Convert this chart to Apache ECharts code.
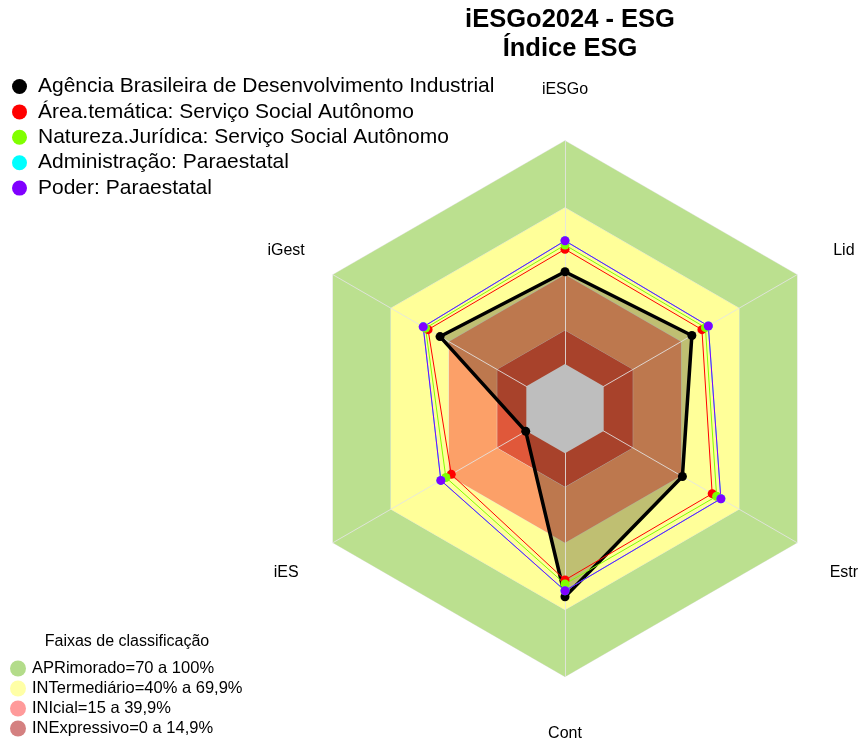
<!DOCTYPE html>
<html>
<head>
<meta charset="utf-8">
<script src="https://cdn.jsdelivr.net/npm/echarts@6/dist/echarts.min.js"></script>
<style>
html,body{margin:0;padding:0;background:#fff;}
#chart{width:862px;height:742px;}
</style>
</head>
<body>
<div id="chart"></div>
<script>
// Axes in ECharts order (counter-clockwise from top)
const categories = ['iESGo', 'iGest', 'iES', 'Cont', 'Estr', 'Lid'];
const axisMin = -20;
const axisMax = 100;

const seriesNames = [
  'Agência Brasileira de Desenvolvimento Industrial',
  'Área.temática: Serviço Social Autônomo',
  'Natureza.Jurídica: Serviço Social Autônomo',
  'Administração: Paraestatal',
  'Poder: Paraestatal'
];
const seriesColors = ['#000000', '#ff0000', '#80ff00', '#00ffff', '#8000ff'];

const valuesAgencia = [41.3, 44.6, 0.3, 64.2, 40.7, 45.6];
const valuesArea = [51.4, 50.8, 38.8, 56.7, 56.1, 50.8];
const valuesNatureza = [53.3, 52.1, 41.6, 58.5, 58.4, 52.6];
const valuesAdministracao = [55.2, 53.3, 44.2, 61.5, 60.6, 54.1];
const valuesPoder = [55.2, 53.3, 44.2, 61.5, 60.6, 54.1];
const allValues = [valuesAgencia, valuesArea, valuesNatureza, valuesAdministracao, valuesPoder];

// Classification bands (upper limit of each band)
const bandNames = ['APRimorado=70 a 100%', 'INTermediário=40% a 69,9%', 'INIcial=15 a 39,9%', 'INExpressivo=0 a 14,9%'];
const bandLimits = [100, 70, 40, 15];
const bandFill = ['#bbe08f', '#ffff99', '#fca068', '#e0583a'];
const bandLegendColors = ['#b3dc8a', '#ffffa6', '#ff9a9a', '#d48080'];
const zeroLimit = 0;
const zeroFill = '#bebebe';

const chart = echarts.init(document.getElementById('chart'));
const font = 'Liberation Sans, Arial, sans-serif';
const gridLine = 'rgba(228,228,228,0.85)';

const series = [];
bandLimits.forEach(function (lim, i) {
  series.push({
    type: 'radar', name: bandNames[i], z: 1, silent: true,
    symbol: 'none',
    itemStyle: { color: bandLegendColors[i] },
    lineStyle: { color: gridLine, width: 1 },
    areaStyle: { color: bandFill[i], opacity: 1 },
    data: [{ value: categories.map(function () { return lim; }) }]
  });
});
// fill of the main entity
series.push({
  type: 'radar', name: 'fill', z: 1, silent: true, symbol: 'none',
  lineStyle: { width: 0, opacity: 0 },
  areaStyle: { color: 'rgba(0,0,0,0.25)', opacity: 1 },
  data: [{ value: valuesAgencia }]
});
// zero disk on top of fill
series.push({
  type: 'radar', name: 'zero', z: 3, silent: true, symbol: 'none',
  lineStyle: { width: 0, opacity: 0 },
  areaStyle: { color: zeroFill, opacity: 1 },
  data: [{ value: categories.map(function () { return zeroLimit; }) }]
});
allValues.forEach(function (vals, i) {
  series.push({
    type: 'radar', name: seriesNames[i], z: 4, silent: true,
    symbol: 'circle', symbolSize: 9,
    itemStyle: { color: seriesColors[i] },
    lineStyle: { color: seriesColors[i], width: i === 0 ? 3.5 : 1 },
    data: [{ value: vals }]
  });
});

const option = {
  backgroundColor: '#ffffff',
  animation: false,
  title: [
    {
      text: 'iESGo2024 - ESG\nÍndice ESG', left: 565, top: 0, textAlign: 'center',
      textStyle: { fontFamily: font, fontSize: 25.5, fontWeight: 'bold', color: '#000', lineHeight: 29 }
    },
    {
      text: 'Faixas de classificação', left: 122, top: 629, textAlign: 'center',
      textStyle: { fontFamily: font, fontSize: 16, fontWeight: 'normal', color: '#000' }
    }
  ],
  legend: [
    {
      orient: 'vertical', left: 7, top: 71, icon: 'circle',
      itemWidth: 27, itemHeight: 15, itemGap: 4.4,
      selectedMode: false,
      textStyle: { fontFamily: font, fontSize: 21, color: '#000' },
      data: seriesNames.map(function (n, i) { return { name: n, itemStyle: { color: seriesColors[i] } }; })
    },
    {
      orient: 'vertical', left: 5, top: 655, height: 100, icon: 'circle',
      itemWidth: 18, itemHeight: 16, itemGap: 3,
      selectedMode: false,
      textStyle: { fontFamily: font, fontSize: 16.5, color: '#000' },
      data: bandNames.map(function (n, i) { return { name: n, itemStyle: { color: bandLegendColors[i] } }; })
    }
  ],
  radar: {
    z: 2,
    center: [565, 408.7],
    radius: 268,
    startAngle: 90,
    shape: 'polygon',
    splitNumber: 6,
    axisNameGap: 54,
    axisName: {
      color: '#000', fontFamily: font, fontSize: 16, align: 'center', verticalAlign: 'middle',
      formatter: function (name) { return '{a|' + name + '}'; },
      rich: { a: { color: '#000', fontFamily: font, fontSize: 16, padding: [6, 0, 0, 0] } }
    },
    axisLine: { show: true, lineStyle: { color: gridLine, width: 1 } },
    splitLine: { show: false },
    splitArea: { show: false },
    axisTick: { show: false },
    axisLabel: { show: false },
    indicator: categories.map(function (c) { return { name: c, min: axisMin, max: axisMax }; })
  },
  series: series
};
chart.setOption(option);
</script>
</body>
</html>
